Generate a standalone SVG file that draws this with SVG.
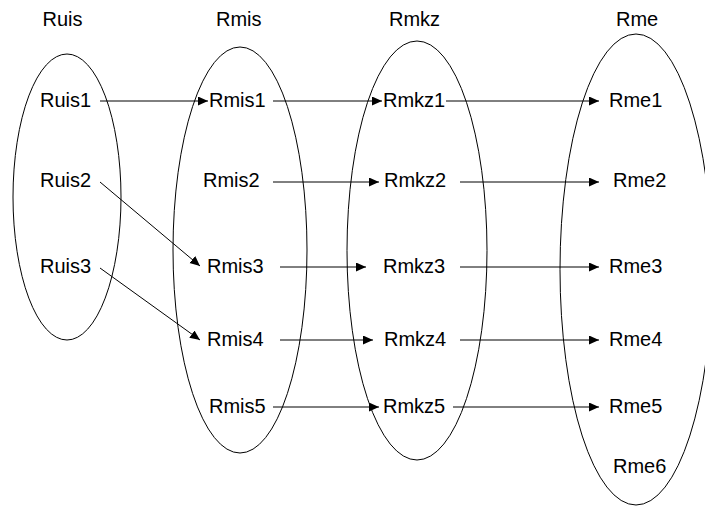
<svg xmlns="http://www.w3.org/2000/svg" width="705" height="506" viewBox="0 0 705 506">
<style>
text { font-family: "Liberation Sans", Arial, sans-serif; font-size: 20px; fill: #000; }
.set { fill: none; stroke: #000; stroke-width: 1; }
.c { fill: none; stroke: #000; stroke-width: 1; marker-end: url(#ah); }
</style>
<defs>
<marker id="ah" markerUnits="userSpaceOnUse" markerWidth="11" markerHeight="10" refX="10" refY="4.5" orient="auto">
<path d="M0,0 L10,4.5 L0,9 Z" fill="#000"/>
</marker>
</defs>
<rect width="705" height="506" fill="#fff"/>
<g id="Ruis">
<ellipse class="set" cx="67" cy="197" rx="54" ry="143"/>
<text x="42.5" y="26">Ruis</text>
</g>
<g id="Rmis">
<ellipse class="set" cx="240" cy="250" rx="67" ry="203"/>
<text x="216" y="26">Rmis</text>
</g>
<g id="Rmkz">
<ellipse class="set" cx="417" cy="250.5" rx="70" ry="209.5"/>
<text x="389" y="26">Rmkz</text>
</g>
<g id="Rme">
<ellipse class="set" cx="636" cy="269.5" rx="76" ry="235.5"/>
<text x="616" y="26">Rme</text>
</g>
<g id="Ruis1"><text x="40" y="107">Ruis1</text></g>
<g id="Ruis2"><text x="40" y="187">Ruis2</text></g>
<g id="Ruis3"><text x="40" y="273">Ruis3</text></g>
<g id="Rmis1"><text x="209" y="107">Rmis1</text></g>
<g id="Rmis2"><text x="203" y="187">Rmis2</text></g>
<g id="Rmis3"><text x="207" y="273">Rmis3</text></g>
<g id="Rmis4"><text x="207" y="346">Rmis4</text></g>
<g id="Rmis5"><text x="209" y="413">Rmis5</text></g>
<g id="Rmkz1"><text x="383" y="107">Rmkz1</text></g>
<g id="Rmkz2"><text x="384" y="187">Rmkz2</text></g>
<g id="Rmkz3"><text x="383" y="273">Rmkz3</text></g>
<g id="Rmkz4"><text x="384" y="346">Rmkz4</text></g>
<g id="Rmkz5"><text x="383" y="413">Rmkz5</text></g>
<g id="Rme1"><text x="609" y="107">Rme1</text></g>
<g id="Rme2"><text x="613" y="187">Rme2</text></g>
<g id="Rme3"><text x="609" y="273">Rme3</text></g>
<g id="Rme4"><text x="609" y="346">Rme4</text></g>
<g id="Rme5"><text x="609" y="413">Rme5</text></g>
<g id="Rme6"><text x="613" y="473">Rme6</text></g>
<g id="connectors">
<line class="c" x1="100" y1="101" x2="208" y2="101"/>
<line class="c" x1="273" y1="101" x2="382" y2="101"/>
<line class="c" x1="446" y1="101" x2="599" y2="101"/>
<line class="c" x1="273" y1="182" x2="379" y2="182"/>
<line class="c" x1="460" y1="182" x2="599" y2="182"/>
<line class="c" x1="280" y1="267" x2="366" y2="267"/>
<line class="c" x1="460" y1="267" x2="599" y2="267"/>
<line class="c" x1="280" y1="340" x2="373" y2="340"/>
<line class="c" x1="460" y1="340" x2="599" y2="340"/>
<line class="c" x1="273" y1="407" x2="379" y2="407"/>
<line class="c" x1="453" y1="407" x2="599" y2="407"/>
<line class="c" x1="100" y1="182" x2="200" y2="266"/>
<line class="c" x1="100" y1="268" x2="200" y2="340"/>
</g>
</svg>
